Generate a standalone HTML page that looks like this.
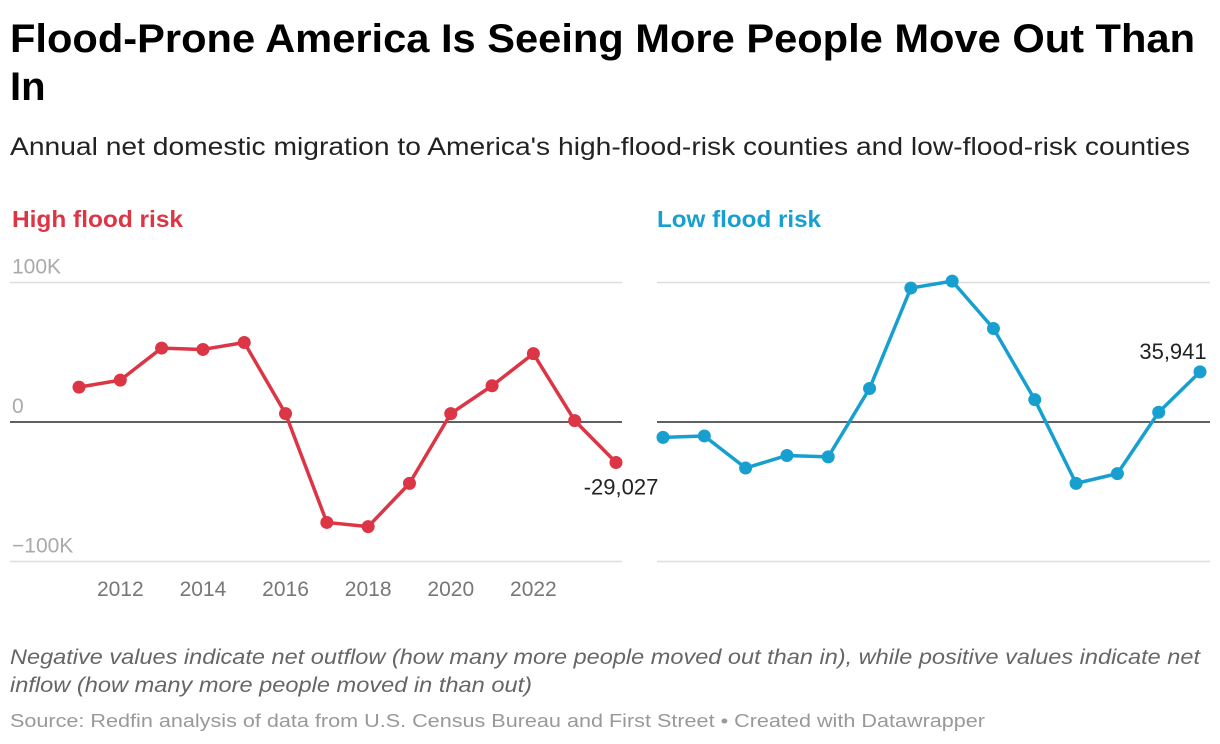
<!DOCTYPE html>
<html><head><meta charset="utf-8"><style>
body{margin:0;width:1220px;height:744px;background:#fff;font-family:"Liberation Sans",sans-serif;overflow:hidden}
svg{position:absolute;left:0;top:0}
</style></head><body>
<svg id="s" width="1220" height="744">
<text x="10" y="52" font-size="40" font-weight="bold" fill="#000" textLength="1185" lengthAdjust="spacingAndGlyphs">Flood-Prone America Is Seeing More People Move Out Than</text>
<text x="10" y="100" font-size="40" font-weight="bold" fill="#000">In</text>
<text x="10" y="155" font-size="25" fill="#222" textLength="1180" lengthAdjust="spacingAndGlyphs">Annual net domestic migration to America's high-flood-risk counties and low-flood-risk counties</text>
<text x="12" y="227" font-size="23" font-weight="bold" fill="#dc3545" textLength="171" lengthAdjust="spacingAndGlyphs">High flood risk</text>
<text x="657" y="227" font-size="23" font-weight="bold" fill="#17a0cf" textLength="164" lengthAdjust="spacingAndGlyphs">Low flood risk</text>
<text x="10" y="664" font-size="21" font-style="italic" fill="#666" textLength="1190" lengthAdjust="spacingAndGlyphs">Negative values indicate net outflow (how many more people moved out than in), while positive values indicate net</text>
<text x="10" y="692" font-size="21" font-style="italic" fill="#666" textLength="522" lengthAdjust="spacingAndGlyphs">inflow (how many more people moved in than out)</text>
<text x="10" y="727" font-size="18" fill="#999" textLength="975" lengthAdjust="spacingAndGlyphs">Source: Redfin analysis of data from U.S. Census Bureau and First Street • Created with Datawrapper</text>
<g id="g"></g>
</svg>
<script>
const years=[2011,2012,2013,2014,2015,2016,2017,2018,2019,2020,2021,2022,2023,2024];
const highVals=[25,30,53,52,57,6,-72,-75,-44,6,26,49,1,-29.027];
const lowVals=[-11,-10,-33,-24,-25,24,96,101,67,16,-44,-37,7,35.941];
const yTicks=[100,0,-100];
const yTickLabels=["100K","0","−100K"];
const xTicks=[2012,2014,2016,2018,2020,2022];
const NS="http://www.w3.org/2000/svg";
const g=document.getElementById('g');
function y(v){return 422-v*1.395;}
function mk(t,a){const e=document.createElementNS(NS,t);for(const k in a)e.setAttribute(k,a[k]);g.appendChild(e);return e;}
function panel(x0,x1,gx0,gx1,vals,color,name,showLabels,lastLabel,lx,la){
  const x=yr=>x0+(yr-2011)*(x1-x0)/13;
  yTicks.forEach((t,i)=>{
    if(t!==0){const l=mk('line',{x1:gx0,x2:gx1,y1:y(t),y2:y(t),stroke:'#ddd','stroke-width':1.5});
    }
    if(showLabels){const tx=mk('text',{x:12,y:y(t)-9,'font-size':21,fill:'#aaa'});tx.textContent=yTickLabels[i];
    }
  });
  const z=mk('line',{x1:gx0,x2:gx1,y1:y(0),y2:y(0),stroke:'#000','stroke-width':1.3});
  
  if(showLabels)xTicks.forEach(t=>{const tx=mk('text',{x:x(t),y:596,'font-size':21,fill:'#777','text-anchor':'middle'});tx.textContent=t;
    });
  const p=mk('polyline',{points:vals.map((v,i)=>x(years[i])+','+y(v)).join(' '),fill:'none',stroke:color,'stroke-width':3.5,'stroke-linejoin':'round'});
  
  vals.forEach((v,i)=>{const c=mk('circle',{cx:x(years[i]),cy:y(v),r:6.5,fill:color});
    });
  const lv=vals[vals.length-1];
  const t=mk('text',{x:lx,y:y(lv)+la,'font-size':22,fill:'#222','text-anchor':'middle'});
  t.textContent=lastLabel;
}
panel(79,616,10,622,highVals,'#dc3545','high-risk',true,Math.round(highVals[13]*1000).toLocaleString('en-US'),621,32);
panel(663,1200,657,1210,lowVals,'#17a0cf','low-risk',false,Math.round(lowVals[13]*1000).toLocaleString('en-US'),1173,-13);
</script>
</body></html>
